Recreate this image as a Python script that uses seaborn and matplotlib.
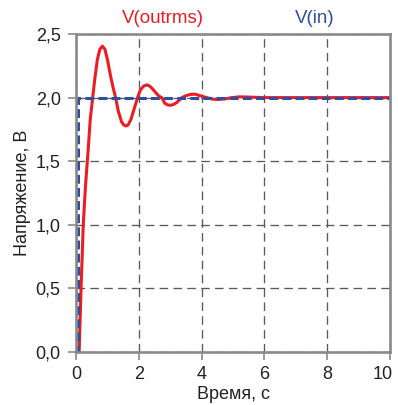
import matplotlib
matplotlib.use("Agg")
import matplotlib.pyplot as plt
from matplotlib.transforms import ScaledTranslation
import seaborn as sns
import pandas as pd

# Data
t_out = [0.10, 0.13, 0.16, 0.20, 0.23, 0.30, 0.36, 0.39, 0.45, 0.53, 0.60, 0.68, 0.76,
         0.84, 0.92, 1.00, 1.10, 1.18, 1.26, 1.35, 1.45, 1.52, 1.59, 1.66, 1.75, 1.85,
         1.96, 2.05, 2.15, 2.25, 2.35, 2.45, 2.55, 2.65, 2.73, 2.83, 2.92, 3.00, 3.10,
         3.20, 3.37, 3.50, 3.65, 3.79, 3.95, 4.16, 4.35, 4.53, 4.75, 4.96, 5.20, 5.50,
         6.00, 10.00]
v_out = [0.00, 0.25, 0.50, 0.78, 1.00, 1.30, 1.50, 1.60, 1.82, 2.00, 2.15, 2.30, 2.38,
         2.405, 2.38, 2.30, 2.17, 2.08, 2.00, 1.89, 1.81, 1.785, 1.777, 1.785, 1.83, 1.91,
         2.00, 2.06, 2.09, 2.10, 2.09, 2.065, 2.035, 2.01, 2.00, 1.955, 1.942, 1.94, 1.945,
         1.96, 2.00, 2.015, 2.025, 2.027, 2.015, 2.00, 1.988, 1.985, 1.99, 2.00, 2.006, 2.004,
         2.00, 2.00]
t_in = [0.0, 0.06, 0.06, 10.0]
v_in = [0.0, 0.0, 2.0, 2.0]

x_ticks = [0, 2, 4, 6, 8, 10]
x_labels = ["0", "2", "4", "6", "8", "10"]
y_ticks = [0.0, 0.5, 1.0, 1.5, 2.0, 2.5]
y_labels = ["0,0", "0,5", "1,0", "1,5", "2,0", "2,5"]

series_out = "V(outrms)"
series_in = "V(in)"
x_title = "Время, с"
y_title = "Напряжение, В"

RED = "#ec1c24"
BLUE = "#2e4f9e"
SPINE = "#8a8a8a"
TXT = "#222222"
FS = 13

sns.set_style("white")
plt.rcParams["font.family"] = ["Liberation Sans", "DejaVu Sans"]

fig = plt.figure(figsize=(3.98, 4.05), dpi=100)
ax = fig.add_axes([0.191, 0.131, 0.789, 0.785])

df_out = pd.DataFrame({"t": t_out, "v": v_out})
df_in = pd.DataFrame({"t": t_in, "v": v_in})

sns.lineplot(data=df_out, x="t", y="v", ax=ax, color=RED, linewidth=2.2,
             sort=False, estimator=None, zorder=3)
sns.lineplot(data=df_in, x="t", y="v", ax=ax, color=BLUE, linewidth=2.2,
             sort=False, estimator=None, zorder=4, dashes=False)
ax.lines[-1].set_dashes([2.9, 1.4])

ax.set_xlim(0, 10)
ax.set_ylim(0, 2.5)
ax.set_xticks(x_ticks)
ax.set_xticklabels(x_labels)
ax.set_yticks(y_ticks)
ax.set_yticklabels(y_labels)

ax.grid(True, color="#5a5a5a", linestyle=(0, (6.5, 4.0)), linewidth=0.95, zorder=1)
for s in ax.spines.values():
    s.set_color(SPINE)
    s.set_linewidth(1.9)
    s.set_zorder(5)

ax.tick_params(axis="both", which="major", direction="out", length=5.5, width=1.2,
               color=SPINE, labelsize=FS, labelcolor=TXT,
               bottom=True, left=True)
ax.tick_params(axis="x", pad=4.5)
ax.tick_params(axis="y", pad=5.5)

# nudge last x tick label inward so it stays inside the figure
last = ax.get_xticklabels()[-1]
last.set_transform(last.get_transform() + ScaledTranslation(-5 / 72, 0, fig.dpi_scale_trans))

ax.set_xlabel(x_title, fontsize=FS, color=TXT, labelpad=2)
ax.set_ylabel(y_title, fontsize=FS, color=TXT, labelpad=3)

fig.text(0.41, 0.955, series_out, color=RED, fontsize=13.5, ha="center", va="center")
fig.text(0.792, 0.955, series_in, color=BLUE, fontsize=13.5, ha="center", va="center")

fig.savefig("out.png", dpi=100, facecolor="white")
